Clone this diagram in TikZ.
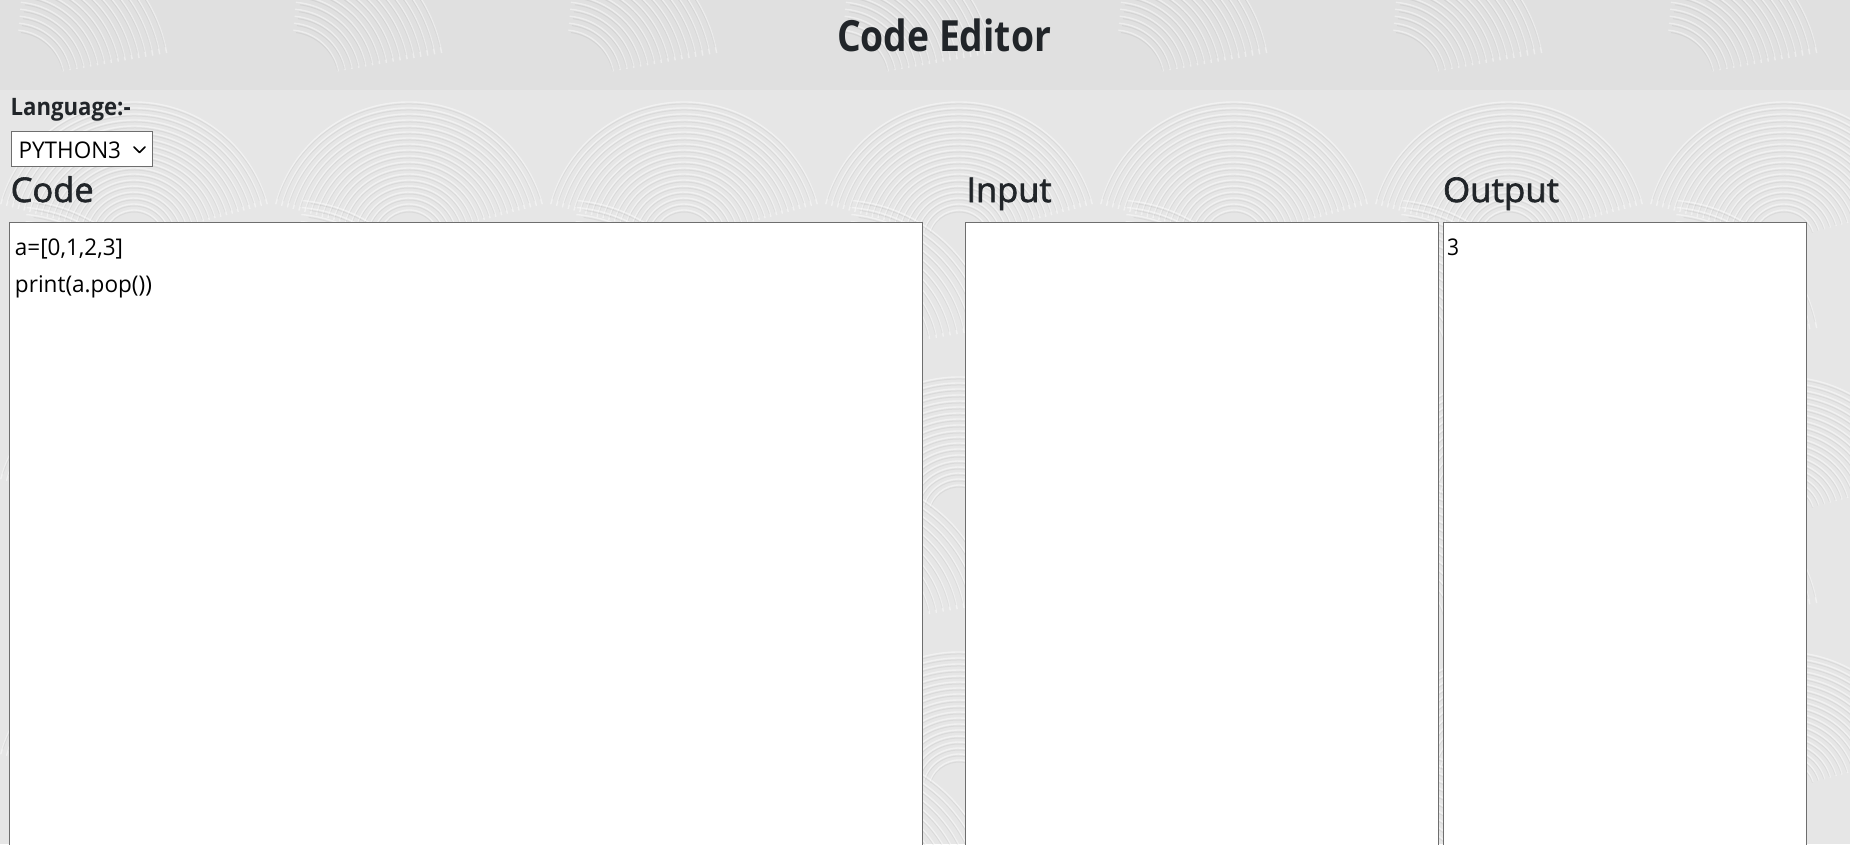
\documentclass[tikz,border=0pt]{standalone}
\usepackage{fontspec}
\setmainfont{Open Sans}
\newfontfamily\mediumfont[FakeBold=1.8]{Open Sans}
\newfontfamily\titlefont[FakeBold=1.2]{Open Sans Bold}
\usepackage{graphicx}
\definecolor{txt}{HTML}{212529}
\definecolor{bg}{HTML}{E6E6E6}
\definecolor{bgtop}{HTML}{E0E0E0}
\definecolor{boxline}{HTML}{6E6E6E}
\newcommand{\fw}[3]{\resizebox{#1}{\height}{\fontsize{#2}{#2}\selectfont #3}}
\begin{document}
\begin{tikzpicture}[x=1pt,y=-1pt,
  lbl/.style={anchor=base west,inner sep=0pt,outer sep=0pt,text=txt},
  codetxt/.style={anchor=base west,inner sep=0pt,outer sep=0pt,text=black},
  panel/.style={fill=white},
  panelline/.style={draw=boxline,line width=1pt},
  stroke/.style={white,opacity=0.45,line width=1.4pt},
  shade/.style={black,opacity=0.05,line width=1pt}]
\useasboundingbox (0,0) rectangle (1850,844);
% background texture
\fill[bg] (0,0) rectangle (1850,844);
\fill[bgtop] (0,0) rectangle (1850,90);
\begin{scope}
\clip (0,0) rectangle (1850,844);
\foreach \i in {0,...,6}{
  \foreach \j in {0,...,3}{
    \pgfmathsetmacro{\ox}{\i*275-6}
    \pgfmathsetmacro{\oy}{\j*275-185}
    \foreach \r in {30,36,...,138}{
      \draw[stroke] ([shift={(\ox+140,\oy+150)}]195:\r) arc (195:345:\r);
      \draw[shade] ([shift={(\ox+140,\oy+152)}]198:\r) arc (198:342:\r);
    }
    \foreach \r in {50,57,...,160}{
      \draw[stroke] ([shift={(\ox+20,\oy+265)}]275:\r) arc (275:350:\r);
      \draw[shade] ([shift={(\ox+20,\oy+267)}]278:\r) arc (278:347:\r);
    }
  }
}
\end{scope}
% title and controls
\node[lbl] (title) at (837,51) {\fw{214pt}{43}{\bfseries Code Editor}};
\node[lbl] (lang) at (10.7,115) {\fw{120pt}{24}{\bfseries Language:-}};
\node[draw=boxline,fill=white,line width=1pt,minimum width=141pt,minimum height=35pt,anchor=north west,inner sep=0pt] (sel) at (10.5,131) {};
\node[codetxt] (seltext) at (18.6,158) {\fw{102.5pt}{23}{PYTHON3}};
\coordinate (chA) at (134,147);
\coordinate (chB) at (139.5,152.5);
\coordinate (chC) at (145,147);
\draw[black,line width=1.6pt,line cap=round,line join=round] (chA) -- (chB) -- (chC);
% headings
\node[lbl] (hcode) at (10.7,202) {\fw{83pt}{34}{\mediumfont Code}};
\node[lbl] (hin) at (966.5,202) {\fw{85pt}{34}{\mediumfont Input}};
\node[lbl] (hout) at (1443,202) {\fw{116pt}{34}{\mediumfont Output}};
% panels
\fill[panel] (9.5,222) rectangle (922.5,846);
\draw[panelline] (9.5,846) -- (9.5,222) -- (922.5,222) -- (922.5,846);
\fill[panel] (965.5,222) rectangle (1438.5,846);
\draw[panelline] (965.5,846) -- (965.5,222) -- (1438.5,222) -- (1438.5,846);
\fill[panel] (1443,222) rectangle (1806.5,846);
\draw[panelline] (1443,846) -- (1443,222) -- (1806.5,222) -- (1806.5,846);
% panel text
\node[codetxt] (c1) at (15,255) {\fw{108pt}{23}{a=[0,1,2,3]}};
\node[codetxt] (c2) at (15,292) {\fw{137pt}{23}{print(a.pop())}};
\node[codetxt] (o1) at (1447,255) {\fw{12pt}{23}{3}};
\end{tikzpicture}
\end{document}
